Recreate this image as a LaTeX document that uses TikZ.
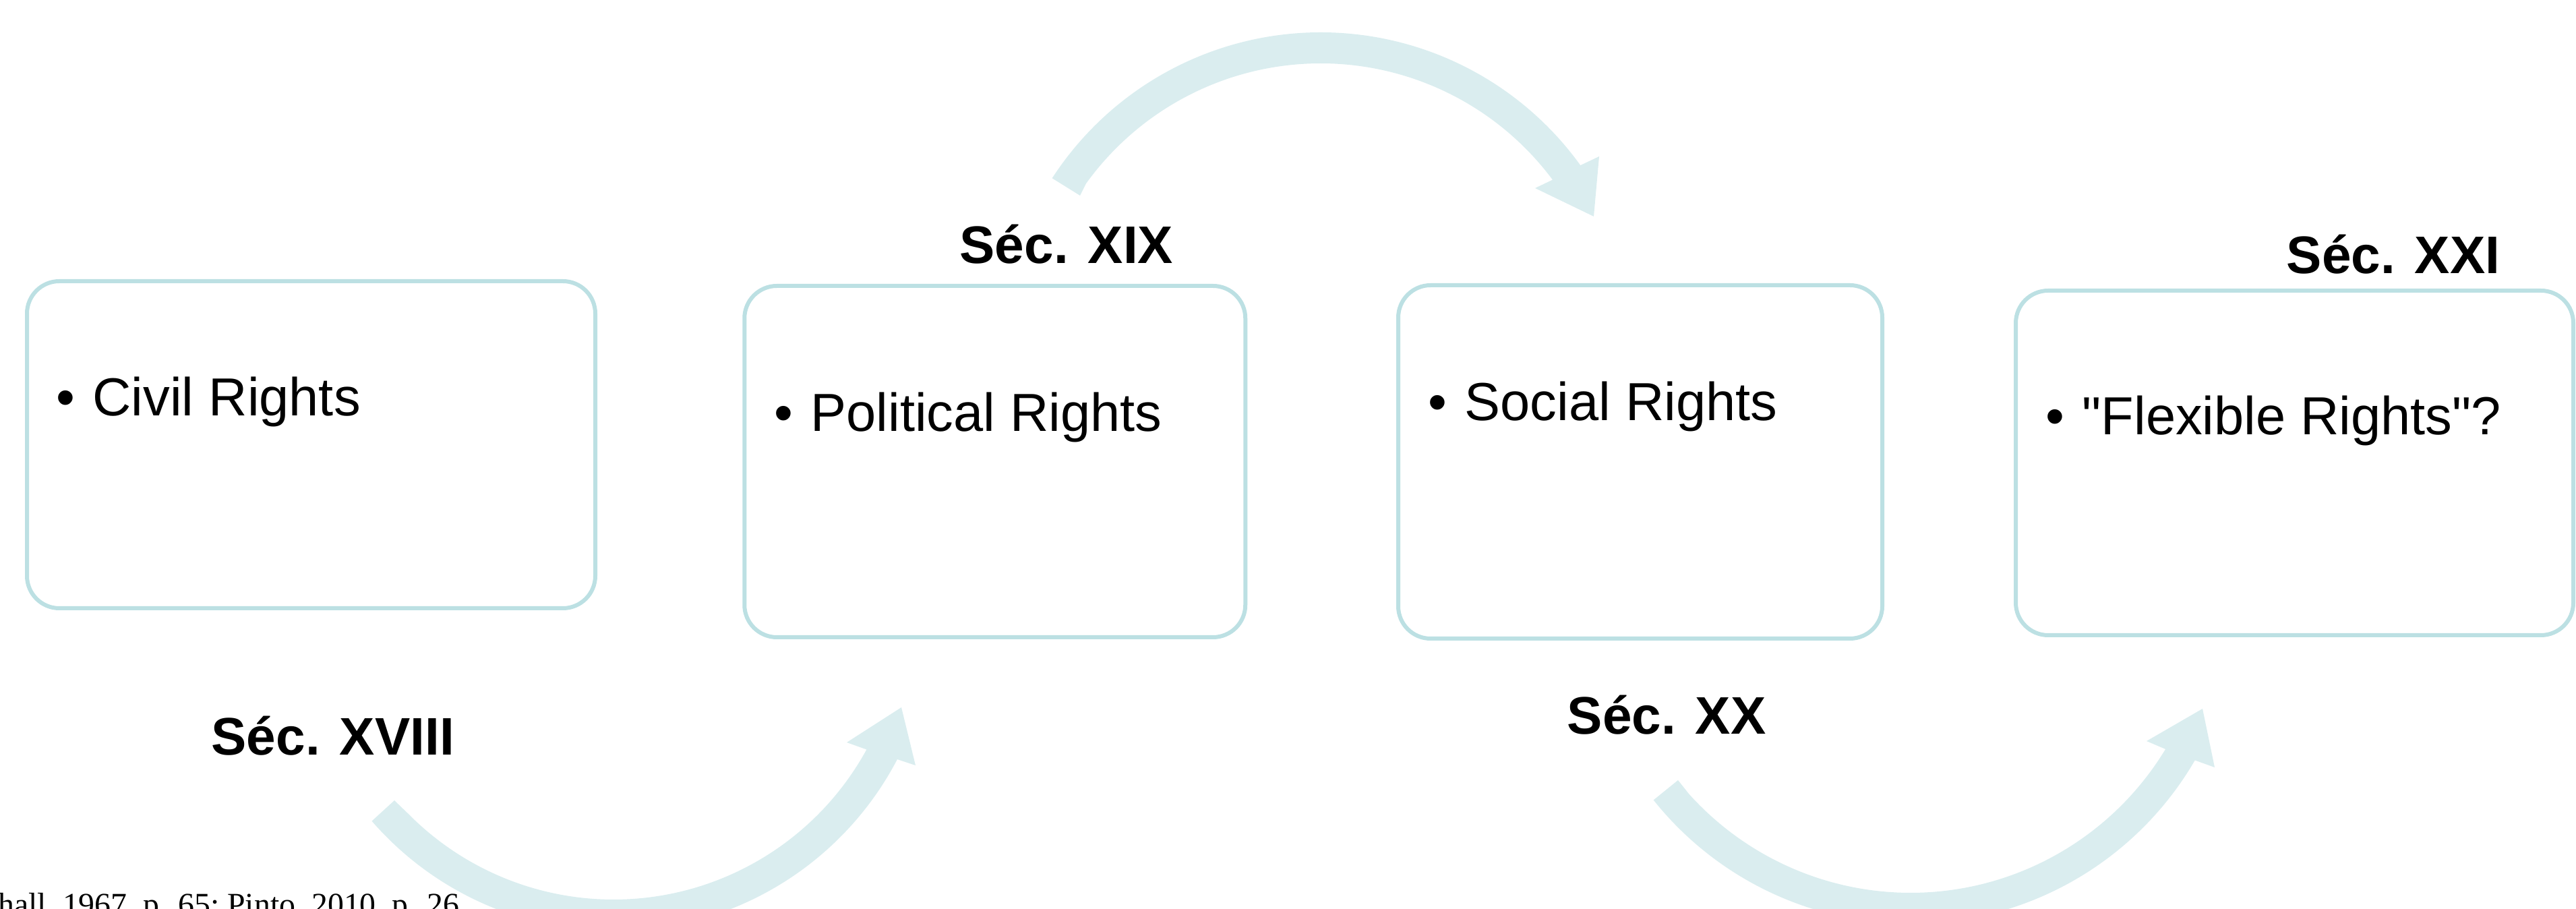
\documentclass[tikz,border=0pt]{standalone}
\usepackage{fontspec}
\setmainfont{Liberation Sans}[Ligatures=TeXOff]
\newfontfamily\srcfont{Liberation Serif}
\usetikzlibrary{calc}
\definecolor{boxline}{RGB}{188,224,227}
\definecolor{sweepfill}{RGB}{218,237,239}
\newcommand{\bul}{\llap{\makebox[0.54cm][l]{\textbullet}}}

\begin{document}
\begin{tikzpicture}[
  box/.style={draw=boxline, line width=0.6mm, rounded corners=0.48cm, fill=white},
  item/.style={anchor=base west, inner sep=0pt, font=\fontsize{22.6}{27}\selectfont},
  era/.style={anchor=base west, inner sep=0pt, font=\fontsize{22.3}{27}\selectfont\bfseries},
  src/.style={anchor=base east, inner sep=0pt, font=\fontsize{13.6}{16}\selectfont\srcfont},
  sweep/.style={fill=sweepfill, draw=none}
]
\useasboundingbox (0,0) rectangle (38.21,13.48);

% centres of the curved arrows
\coordinate (arcA) at (19.59,8.25);
\coordinate (arcB) at (9.10,4.42);
\coordinate (arcC) at (28.34,4.66);

% curved arrows
\fill[sweep] ($(arcA)+(147:4.75)$) arc[start angle=147, end angle=35.8, radius=4.75]
  -- (23.72,11.16) -- (23.64,10.27) -- (22.77,10.69)
  -- ($(arcA)+(36.7:4.29)$) arc[start angle=36.7, end angle=144.2, radius=4.29]
  -- (16.02,10.58) -- cycle;
\fill[sweep] ($(arcB)+(221:4.75)$) arc[start angle=221, end angle=332.4, radius=4.75]
  -- (13.58,2.13) -- (13.37,2.99) -- (12.56,2.47)
  -- ($(arcB)+(331.3:4.28)$) arc[start angle=331.3, end angle=224.6, radius=4.28]
  -- (5.85,1.61) -- cycle;
\fill[sweep] ($(arcC)+(218.6:4.88)$) arc[start angle=218.6, end angle=329.8, radius=4.88]
  -- (32.85,2.10) -- (32.67,2.97) -- (31.84,2.49)
  -- ($(arcC)+(328.8:4.42)$) arc[start angle=328.8, end angle=221.9, radius=4.42]
  -- (24.89,1.91) -- cycle;

% boxes
\node[box, minimum width=8.43cm, minimum height=4.85cm] (civil) at (4.615,6.885) {};
\node[box, minimum width=7.43cm, minimum height=5.21cm] (political) at (14.7575,6.635) {};
\node[box, minimum width=7.18cm, minimum height=5.24cm] (social) at (24.33,6.63) {};
\node[box, minimum width=8.27cm, minimum height=5.11cm] (flexible) at (34.035,6.615) {};

\node[item] (civiltxt) at (1.37,7.31) {\bul Civil Rights};
\node[item] (politicaltxt) at (12.02,7.08) {\bul Political Rights};
\node[item] (socialtxt) at (21.72,7.24) {\bul Social Rights};
\node[item] (flexibletxt) at (30.88,7.03) {\bul "Flexible Rights"?};

% centuries
\node[era] (xviii) at (3.13,2.28) {Séc. XVIII};
\node[era] (xix) at (14.23,9.57) {Séc. XIX};
\node[era] (xx) at (23.24,2.59) {Séc. XX};
\node[era] (xxi) at (33.91,9.42) {Séc. XXI};

\node[src] (source) at (6.82,-0.10) {hall, 1967, p. 65; Pinto, 2010, p. 26};
\end{tikzpicture}
\end{document}
